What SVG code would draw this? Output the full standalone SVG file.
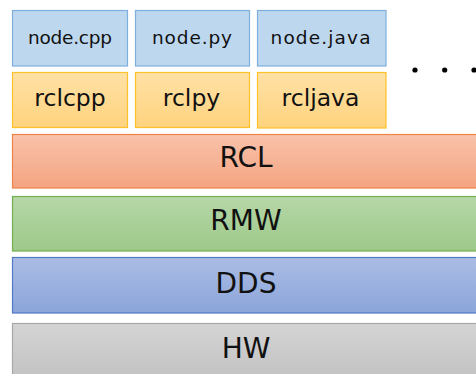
<svg xmlns="http://www.w3.org/2000/svg" width="476" height="374" viewBox="0 0 476 374">
<defs>
<linearGradient id="gRcl" x1="0" y1="0" x2="0" y2="1"><stop offset="0" stop-color="#FFE1A6"/><stop offset="1" stop-color="#FFD37E"/></linearGradient>
<linearGradient id="gRCL" x1="0" y1="0" x2="0" y2="1"><stop offset="0" stop-color="#F8C2AA"/><stop offset="1" stop-color="#F4A481"/></linearGradient>
<linearGradient id="gRMW" x1="0" y1="0" x2="0" y2="1"><stop offset="0" stop-color="#B6D7A7"/><stop offset="1" stop-color="#9DC98A"/></linearGradient>
<linearGradient id="gDDS" x1="0" y1="0" x2="0" y2="1"><stop offset="0" stop-color="#AABCE4"/><stop offset="1" stop-color="#8BA5DA"/></linearGradient>
<linearGradient id="gHW" x1="0" y1="0" x2="0" y2="1"><stop offset="0" stop-color="#D4D4D4"/><stop offset="1" stop-color="#C2C2C2"/></linearGradient>
</defs>
<style>
text{font-family:"DejaVu Sans","Noto Sans",sans-serif;fill:#111;text-anchor:middle}
.node rect{fill:#BDD7EE;stroke:#7EAEDD;stroke-width:1.2}
.node text{font-size:18.5px}
.rcl rect{fill:url(#gRcl);stroke:#FFC12A;stroke-width:1.2}
.rcl text{font-size:23.5px}
.layer text{font-size:28px}
</style>
<g id="node-cpp" class="node"><rect x="12.5" y="10.5" width="115" height="55.5"/><text x="70" y="43.5" textLength="84" lengthAdjust="spacing">node.cpp</text></g>
<g id="node-py" class="node"><rect x="135.5" y="10.5" width="114" height="55.5"/><text x="192" y="43.5" textLength="80" lengthAdjust="spacing">node.py</text></g>
<g id="node-java" class="node"><rect x="257.5" y="10.5" width="128.5" height="55.5"/><text x="320.5" y="43.5" textLength="100" lengthAdjust="spacing">node.java</text></g>
<g id="rclcpp" class="rcl"><rect x="12.5" y="72.5" width="115" height="55"/><text x="70" y="105.5">rclcpp</text></g>
<g id="rclpy" class="rcl"><rect x="135.5" y="72.5" width="114" height="55"/><text x="191.5" y="105.5">rclpy</text></g>
<g id="rcljava" class="rcl"><rect x="257.5" y="72.5" width="128.5" height="55.5"/><text x="320.5" y="105.5">rcljava</text></g>
<g id="dots" fill="#000"><circle cx="415" cy="70" r="2.6"/><circle cx="444.7" cy="70" r="2.6"/><circle cx="474" cy="70" r="2.6"/></g>
<g id="RCL" class="layer"><rect x="12.5" y="134.5" width="470" height="53.5" fill="url(#gRCL)" stroke="#EE8446" stroke-width="1.2"/><text x="246" y="167">RCL</text></g>
<g id="RMW" class="layer"><rect x="12.5" y="196.5" width="470" height="54.5" fill="url(#gRMW)" stroke="#74AE52" stroke-width="1.2"/><text x="246" y="229.5">RMW</text></g>
<g id="DDS" class="layer"><rect x="12.5" y="257.5" width="470" height="55.5" fill="url(#gDDS)" stroke="#5079C8" stroke-width="1.2"/><text x="246" y="293">DDS</text></g>
<g id="HW" class="layer"><rect x="12.5" y="323.5" width="470" height="56" fill="url(#gHW)" stroke="#A8A8A8" stroke-width="1.2"/><text x="246" y="357.5">HW</text></g>
<g id="connectors"/>
</svg>
